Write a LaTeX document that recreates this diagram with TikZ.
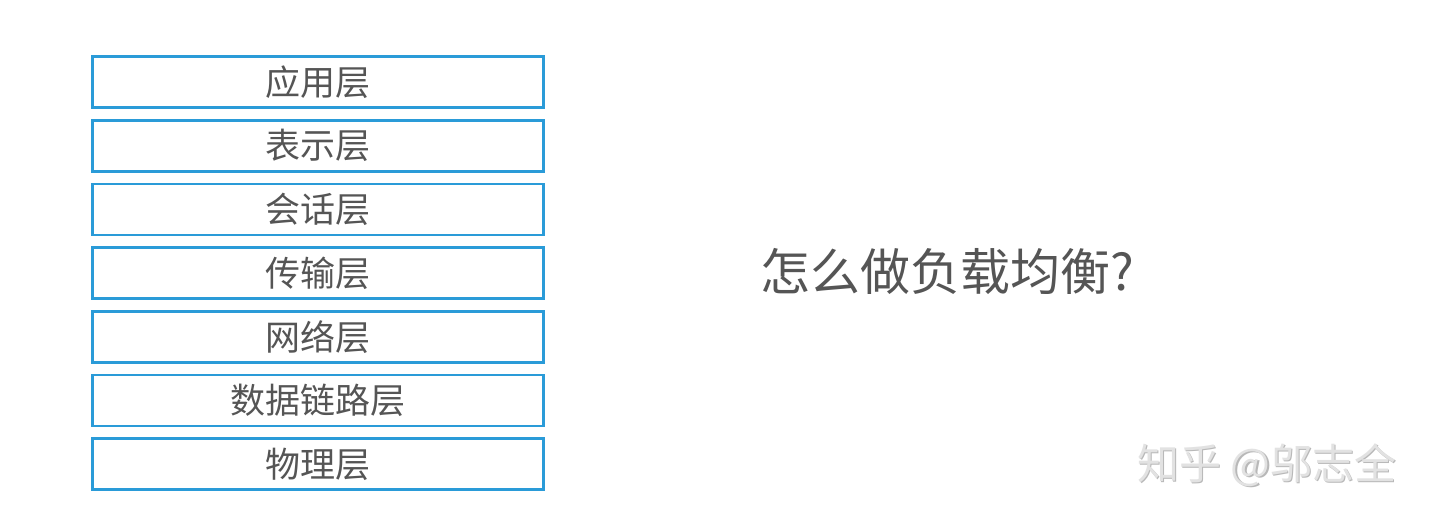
\documentclass[tikz,border=0pt]{standalone}
\usepackage{fontspec}
\setmainfont{Noto Sans CJK SC}
\definecolor{boxblue}{HTML}{2A9BD8}
\definecolor{txtgray}{HTML}{555555}
\definecolor{wmgray}{HTML}{E2E2E2}
\definecolor{wmshadow}{HTML}{B8B8B8}
\begin{document}
\begin{tikzpicture}[x=1pt,y=-1pt,
  layer/.style={draw=boxblue,line width=2.6pt,fill=white,minimum width=451pt,minimum height=51pt,
    inner sep=0pt,anchor=north west,text=txtgray,font=\fontsize{35}{40}\selectfont},
  title/.style={text=txtgray,font=\fontsize{50}{56}\selectfont,inner sep=0pt},
  wmark/.style={text=wmgray,font=\fontsize{42}{48}\selectfont,inner sep=0pt}]
\useasboundingbox[fill=white] (0,0) rectangle (1440,524);
\node[layer] (l7) at (91.3,55.3) {应用层};
\node[layer] (l6) at (91.3,119.0) {表示层};
\node[layer] (l5) at (91.3,182.7) {会话层};
\node[layer] (l4) at (91.3,246.3) {传输层};
\node[layer] (l3) at (91.3,310.0) {网络层};
\node[layer] (l2) at (91.3,373.8) {数据链路层};
\node[layer] (l1) at (91.3,437.3) {物理层};
\node[title,anchor=west] (q) at (760,271) {怎么做负载均衡?};
\node[wmark,anchor=west,text=wmshadow] (wms) at (1138.5,466.5) {知乎 @邬志全};
\node[wmark,anchor=west] (wm) at (1137,465) {知乎 @邬志全};
\end{tikzpicture}
\end{document}
